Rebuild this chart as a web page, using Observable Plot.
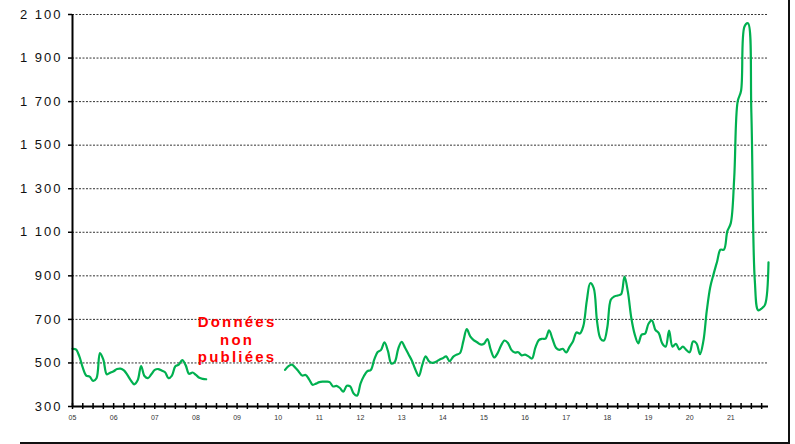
<!DOCTYPE html>
<html><head><meta charset="utf-8">
<script src="https://cdn.jsdelivr.net/npm/d3@7"></script>
<script src="https://cdn.jsdelivr.net/npm/@observablehq/plot@0.6"></script>
<style>
body{margin:0;background:#fff;}
#wrap{position:relative;width:795px;height:444px;overflow:hidden;background:#fff;}
#frame{position:absolute;left:20px;top:-10px;width:770px;height:454px;border-right:2px solid #111;border-bottom:2px solid #111;box-sizing:border-box;pointer-events:none;}
g[aria-label="y-axis tick label"] text{letter-spacing:2px;}
g[aria-label="text"] text{letter-spacing:2.2px;}
</style>
</head><body>
<div id="wrap"><div id="frame"></div></div>
<script>
const startYear = 2005;
const yearLabels = ["05","06","07","08","09","10","11","12","13","14","15","16","17","18","19","20","21"];
const yTicks = [300, 500, 700, 900, 1100, 1300, 1500, 1700, 1900, 2100];

// monthly values, January to December (null = données non publiées)
const v2005 = [565, 562, 530, 478, 442, 437, 418, 430, 545, 515, 448, 455];
const v2006 = [462, 472, 474, 466, 445, 420, 402, 420, 486, 440, 430, 448];
const v2007 = [468, 472, 465, 457, 430, 442, 485, 492, 513, 490, 450, 456];
const v2008 = [445, 432, 427, 425, null, null, null, null, null, null, null, null];
const v2009 = [null, null, null, null, null, null, null, null, null, null, null, null];
const v2010 = [null, null, 468, 485, 492, 478, 460, 442, 445, 425, 400, 405];
const v2011 = [412, 414, 414, 412, 392, 395, 385, 368, 395, 392, 360, 350];
const v2012 = [405, 440, 462, 468, 515, 550, 560, 595, 555, 497, 505, 565];
const v2013 = [597, 570, 540, 510, 470, 440, 490, 530, 507, 500, 505, 515];
const v2014 = [522, 530, 508, 528, 538, 545, 600, 655, 622, 605, 595, 585];
const v2015 = [588, 610, 560, 525, 545, 580, 603, 592, 560, 548, 549, 535];
const v2016 = [538, 530, 520, 570, 605, 611, 612, 650, 610, 570, 560, 565];
const v2017 = [548, 575, 600, 640, 635, 670, 785, 866, 845, 690, 612, 603];
const v2018 = [665, 790, 805, 810, 815, 897, 825, 705, 630, 590, 630, 634];
const v2019 = [680, 695, 652, 637, 590, 575, 648, 575, 588, 562, 575, 560];
const v2020 = [549, 598, 590, 540, 600, 740, 848, 909, 965, 1020, 1020, 1105];
const v2021 = [1142, 1350, 1700, 1750, 2045, 2060, 1650, 880, 742, 750, 768, 962];

const noteLabel = ["Données\nnon\npubliées"];
const noteX = [2009];
const noteY = [610];

const series = [v2005, v2006, v2007, v2008, v2009, v2010, v2011, v2012, v2013,
  v2014, v2015, v2016, v2017, v2018, v2019, v2020, v2021].flat();
const data = series.map((v, i) => ({t: startYear + i / 12, v}));
const lastT = startYear + (series.length - 1) / 12;
const quarterTicks = d3.range(0, series.length - 1, 3).map(i => startYear + i / 12);
const yearTicks = yearLabels.map((s, k) => startYear + k);
const note = noteLabel.map((label, i) => ({label, x: noteX[i], y: noteY[i]}));

const fr = d3.formatLocale({decimal: ",", thousands: " ", grouping: [3], currency: ["", ""]});
const fmt = fr.format(",");

const chart = Plot.plot({
  width: 795, height: 444,
  marginLeft: 72, marginRight: 27, marginTop: 14, marginBottom: 38,
  style: {fontFamily: "'Liberation Sans', Arial, sans-serif", background: "transparent", color: "#000"},
  x: {domain: [startYear, lastT]},
  y: {domain: [300, 2100]},
  marks: [
    Plot.ruleY(yTicks.slice(1), {stroke: "#333", strokeWidth: 1, strokeDasharray: "2,1.5"}),
    Plot.line(data, {x: "t", y: "v", stroke: "#00b050", strokeWidth: 2.2, curve: "catmull-rom"}),
    Plot.ruleY([300], {stroke: "#000", strokeWidth: 2}),
    Plot.ruleX([startYear], {stroke: "#000", strokeWidth: 2}),
    Plot.axisY({ticks: yTicks, tickSize: 4, tickPadding: 6, strokeWidth: 1.5, tickFormat: fmt, fontSize: 13, fill: "#111", label: null}),
    Plot.axisX({ticks: quarterTicks, tickSize: 6, dy: -3, strokeWidth: 1.5, tickFormat: () => "", label: null}),
    Plot.axisX({ticks: yearTicks, tickSize: 0, tickPadding: 9, fontSize: 7, fill: "#333",
      tickFormat: d => yearLabels[Math.round(d - startYear)], label: null}),
    Plot.text(note, {x: "x", y: "y", text: "label", fill: "#ff0000", fontSize: 15,
      fontWeight: "bold", lineHeight: 1.15, lineAnchor: "middle"})
  ]
});
document.getElementById("wrap").prepend(chart);
</script>
</body></html>
